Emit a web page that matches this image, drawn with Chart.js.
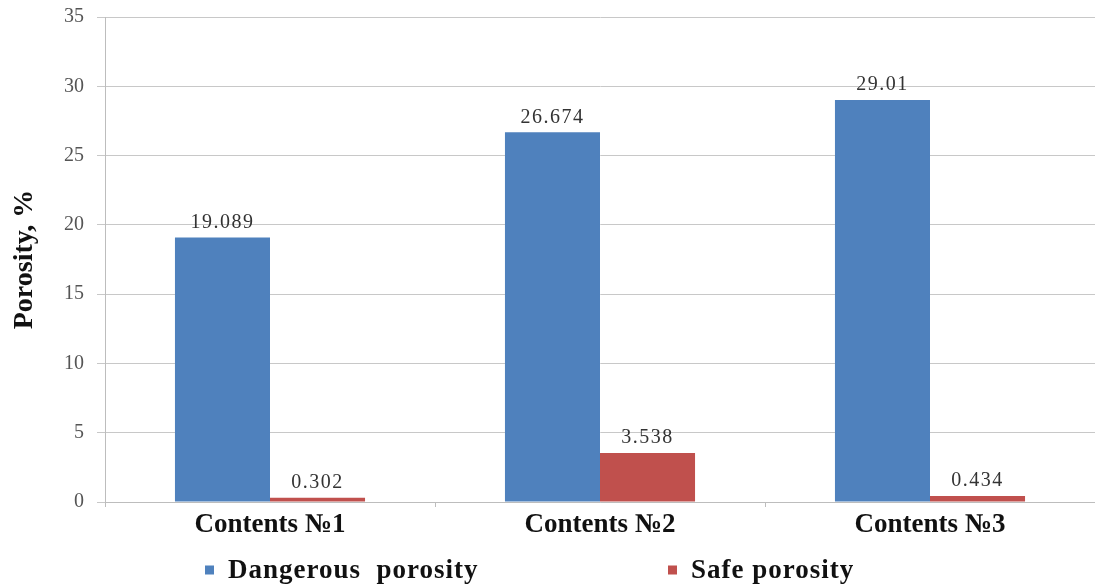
<!DOCTYPE html>
<html>
<head>
<meta charset="utf-8">
<script src="https://cdn.jsdelivr.net/npm/chart.js@4.4.0/dist/chart.umd.min.js"></script>
<style>
  html, body { margin: 0; padding: 0; background: #fff; }
  #wrap { width: 1095px; height: 585px; }
</style>
</head>
<body>
<div id="wrap"><canvas id="c" width="1095" height="585"></canvas></div>
<script>
const categories = ['Contents \u21161', 'Contents \u21162', 'Contents \u21163'];
const dangerous = [19.089, 26.674, 29.01];
const safe = [0.302, 3.538, 0.434];
const seriesNames = ['Dangerous  porosity', 'Safe porosity'];
const yTicks = [0, 5, 10, 15, 20, 25, 30, 35];

const SERIF = '"Liberation Serif", "Times New Roman", serif';

// Value labels above each bar
const valueLabels = {
  id: 'valueLabels',
  afterDatasetsDraw(chart) {
    const ctx = chart.ctx;
    ctx.save();
    ctx.font = '20px ' + SERIF;
    ctx.fillStyle = '#333';
    ctx.textAlign = 'center';
    ctx.textBaseline = 'middle';
    if ('letterSpacing' in ctx) ctx.letterSpacing = '1.5px';
    chart.data.datasets.forEach((ds, i) => {
      const meta = chart.getDatasetMeta(i);
      meta.data.forEach((el, j) => {
        ctx.fillText(String(ds.data[j]), el.x, el.y - 15);
      });
    });
    ctx.restore();
  }
};

// Legend row along the bottom; each entry starts at a fixed x
const legendStarts = [205, 668];
const bottomLegend = {
  id: 'bottomLegend',
  afterDraw(chart) {
    const ctx = chart.ctx;
    ctx.save();
    ctx.font = 'bold 27px ' + SERIF;
    ctx.textBaseline = 'middle';
    ctx.textAlign = 'left';
    if ('letterSpacing' in ctx) ctx.letterSpacing = '1px';
    const y = 570, box = 9, gapText = 14;
    chart.data.datasets.forEach((ds, i) => {
      const x = legendStarts[i];
      ctx.fillStyle = ds.backgroundColor;
      ctx.fillRect(x, y - box / 2, box, box);
      ctx.fillStyle = '#111';
      ctx.fillText(ds.label, x + box + gapText, y + 1);
    });
    ctx.restore();
  }
};

new Chart(document.getElementById('c'), {
  type: 'bar',
  data: {
    labels: categories,
    datasets: [
      { label: seriesNames[0], data: dangerous, backgroundColor: '#4F81BD' },
      { label: seriesNames[1], data: safe, backgroundColor: '#C0504D' }
    ]
  },
  options: {
    responsive: false,
    animation: false,
    devicePixelRatio: 1,
    layout: { padding: { top: 17, right: 0, bottom: 40, left: 0 } },
    datasets: { bar: { categoryPercentage: 0.576, barPercentage: 1.0 } },
    plugins: { legend: { display: false }, tooltip: { enabled: false } },
    scales: {
      x: {
        grid: { display: true, drawOnChartArea: false, offset: true, tickLength: 5, color: '#bdbdbd' },
        border: { color: '#bdbdbd' },
        ticks: { color: '#111', font: { family: SERIF, size: 27, weight: 'bold' }, padding: 2 },
        afterFit(scale) { scale.height = 43; }
      },
      y: {
        min: 0, max: 35,
        afterBuildTicks(scale) { scale.ticks = yTicks.map(v => ({ value: v })); },
        grid: { color: '#c8c8c8', tickLength: 8 },
        border: { color: '#bdbdbd' },
        ticks: { color: '#555', font: { family: SERIF, size: 20 }, padding: 13 },
        title: {
          display: true, text: 'Porosity, %', color: '#111',
          font: { family: SERIF, size: 28, weight: 'bold' },
          padding: { top: 8, bottom: 0 }
        },
        afterFit(scale) {
          scale.width = 105;
          scale.paddingTop = 0;
          scale.paddingBottom = 0;
        }
      }
    }
  },
  plugins: [valueLabels, bottomLegend]
});
</script>
</body>
</html>
